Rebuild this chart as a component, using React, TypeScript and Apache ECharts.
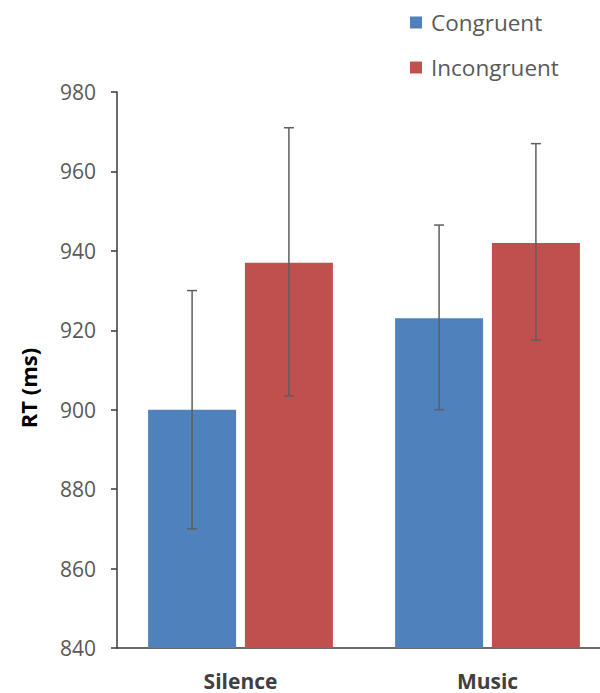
import React, { useEffect, useRef } from "react";
import * as echarts from "echarts";

// Conditions on the x axis
const categories = ["Silence", "Music"];
// Mean reaction times (ms)
const congruent = [900, 923];
const incongruent = [937, 942];
// Error bar ends [low, high] per condition
const congruentErr = [
  [870, 930],
  [900, 946.5],
];
const incongruentErr = [
  [903.5, 971],
  [917.5, 967],
];
// Value axis range
const yMin = 840;
const yMax = 980;
const yStep = 20;

const FONT = "'Open Sans', sans-serif";
const TEXT = "#595959";
const BAR_W = 88;
const GAP_RATIO = 0.1;

export default function App() {
  const ref = useRef<HTMLDivElement>(null);

  useEffect(() => {
    document.body.style.margin = "0";
    if (!ref.current) return;
    const chart = echarts.init(ref.current, null, { renderer: "svg" });

    const errData: number[][] = [];
    congruentErr.forEach((e, i) => errData.push([i, e[0], e[1], 0]));
    incongruentErr.forEach((e, i) => errData.push([i, e[0], e[1], 1]));

    const half = (BAR_W + BAR_W * GAP_RATIO) / 2;

    chart.setOption({
      animation: false,
      textStyle: { fontFamily: FONT },
      legend: {
        orient: "vertical",
        left: 405,
        top: 6,
        itemWidth: 12,
        itemHeight: 12,
        itemGap: 22,
        icon: "rect",
        textStyle: { fontFamily: FONT, fontSize: 22.5, color: TEXT, padding: [0, 0, 0, 4] },
        data: ["Congruent", "Incongruent"],
      },
      // the plot area runs on past the right edge of the canvas
      grid: { left: 117, top: 92, bottom: 45, width: 494, outerBoundsMode: "none" },
      xAxis: {
        type: "category",
        data: categories,
        axisLine: { lineStyle: { color: "#3a3a3a", width: 1.5 } },
        axisTick: { show: false },
        axisLabel: {
          margin: 22,
          fontFamily: FONT,
          fontSize: 21,
          fontWeight: "bold",
          color: "#404040",
        },
      },
      yAxis: {
        type: "value",
        min: yMin,
        max: yMax,
        interval: yStep,
        splitLine: { show: false },
        axisLine: { show: true, lineStyle: { color: "#3a3a3a", width: 1.5 } },
        axisTick: { show: true, length: 6, lineStyle: { color: "#3a3a3a", width: 1.5 } },
        axisLabel: { margin: 21, fontFamily: FONT, fontSize: 21, color: TEXT },
      },
      graphic: [
        {
          type: "text",
          x: 28,
          y: 388,
          rotation: Math.PI / 2,
          style: {
            text: "RT (ms)",
            fontFamily: FONT,
            fontSize: 22,
            fontWeight: "bold",
            fill: "#000",
            textAlign: "center",
            textVerticalAlign: "middle",
          },
        },
      ],
      series: [
        {
          name: "Congruent",
          type: "bar",
          data: congruent,
          barWidth: BAR_W,
          barGap: GAP_RATIO * 100 + "%",
          itemStyle: { color: "#4f81bd" },
        },
        {
          name: "Incongruent",
          type: "bar",
          data: incongruent,
          barWidth: BAR_W,
          itemStyle: { color: "#c0504d" },
        },
        {
          type: "custom",
          data: errData,
          z: 10,
          renderItem: (params: any, api: any) => {
            const cat = api.value(0);
            const side = api.value(3) === 0 ? -half : half;
            const lo = api.coord([cat, api.value(1)]);
            const hi = api.coord([cat, api.value(2)]);
            const x = lo[0] + side;
            const cap = 5;
            const style = { stroke: "#5f5f5f", lineWidth: 1.5 };
            return {
              type: "group",
              children: [
                { type: "line", shape: { x1: x, y1: hi[1], x2: x, y2: lo[1] }, style },
                { type: "line", shape: { x1: x - cap, y1: hi[1], x2: x + cap, y2: hi[1] }, style },
                { type: "line", shape: { x1: x - cap, y1: lo[1], x2: x + cap, y2: lo[1] }, style },
              ],
            };
          },
        },
      ],
    });

    return () => chart.dispose();
  }, []);

  return <div ref={ref} style={{ width: 600, height: 693 }} />;
}
